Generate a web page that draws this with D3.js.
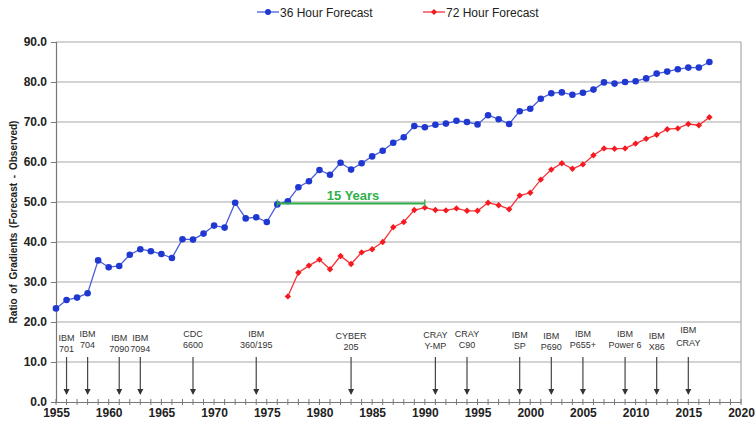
<!DOCTYPE html>
<html>
<head>
<meta charset="utf-8">
<script src="https://cdn.jsdelivr.net/npm/d3@7"></script>
<style>
  html, body { margin: 0; padding: 0; background: #fff; }
  svg { display: block; font-family: "Liberation Sans", Arial, Helvetica, sans-serif; }
</style>
</head>
<body>
<svg id="chart" width="756" height="424"></svg>
<script>
// ---------------- DATA ----------------
const years36 = [1955,1956,1957,1958,1959,1960,1961,1962,1963,1964,1965,1966,1967,1968,1969,1970,1971,1972,1973,1974,1975,1976,1977,1978,1979,1980,1981,1982,1983,1984,1985,1986,1987,1988,1989,1990,1991,1992,1993,1994,1995,1996,1997,1998,1999,2000,2001,2002,2003,2004,2005,2006,2007,2008,2009,2010,2011,2012,2013,2014,2015,2016,2017];
const values36 = [23.4,25.5,26.1,27.2,35.4,33.7,34.0,36.8,38.2,37.7,37.0,36.0,40.7,40.6,42.1,44.1,43.6,49.8,45.9,46.2,45.0,49.4,50.2,53.7,55.2,58.0,56.8,59.8,58.1,59.7,61.4,62.8,64.8,66.2,69.0,68.7,69.3,69.6,70.3,70.0,69.4,71.7,70.7,69.5,72.7,73.3,75.8,77.2,77.4,76.8,77.3,78.1,79.9,79.6,80.0,80.2,80.9,82.1,82.6,83.2,83.6,83.6,85.0];
const years72 = [1977,1978,1979,1980,1981,1982,1983,1984,1985,1986,1987,1988,1989,1990,1991,1992,1993,1994,1995,1996,1997,1998,1999,2000,2001,2002,2003,2004,2005,2006,2007,2008,2009,2010,2011,2012,2013,2014,2015,2016,2017];
const values72 = [26.4,32.3,34.1,35.6,33.2,36.5,34.5,37.4,38.2,40.0,43.7,45.0,48.0,48.6,48.0,47.9,48.4,47.8,47.8,49.8,49.2,48.2,51.6,52.3,55.6,58.1,59.7,58.3,59.4,61.7,63.4,63.3,63.4,64.6,65.8,66.8,68.2,68.4,69.5,69.2,71.2];

const seriesNames = ["36 Hour Forecast", "72 Hour Forecast"];
const yTicks = [0,10,20,30,40,50,60,70,80,90];
const xTickLabels = [1955,1960,1965,1970,1975,1980,1985,1990,1995,2000,2005,2010,2015,2020];

const machineYears  = [1956, 1958, 1961, 1963, 1968, 1974, 1983, 1991, 1994, 1999, 2002, 2005, 2009, 2012, 2015];
const machineLine1  = ["IBM","IBM","IBM","IBM","CDC","IBM","CYBER","CRAY","CRAY","IBM","IBM","IBM","IBM","IBM","IBM"];
const machineLine2  = ["701","704","7090","7094","6600","360/195","205","Y-MP","C90","SP","P690","P655+","Power 6","X86","CRAY"];

const gapLabel = "15 Years";
const gapStartYear = 1976, gapEndYear = 1990, gapValue = 49.6;
const yTitle = "Ratio of Gradients (Forecast - Observed)";

// ---------------- LAYOUT / STYLE ----------------
(function () {
const svg = d3.select("#chart");
const mLeft = 56, mRight = 741, mTop = 42, mBottom = 402;
const x = d3.scaleLinear().domain([1955, 2020]).range([mLeft, mRight]);
const y = d3.scaleLinear().domain([0, 90]).range([mBottom, mTop]);

const blue = "#2038d2", blueLine = "#4a5cd8";
const red = "#f41a1f", redLine = "#f5333a";
const green = "#2fb04a";
const grid = "#a8a8a8";
const textCol = "#222";

// gridlines
svg.append("g").selectAll("line").data(yTicks.filter(d => d > 0)).join("line")
  .attr("x1", mLeft).attr("x2", mRight)
  .attr("y1", d => y(d)).attr("y2", d => y(d))
  .attr("stroke", grid).attr("stroke-width", 1.2);
svg.append("line").attr("x1", mRight).attr("x2", mRight).attr("y1", mTop).attr("y2", mBottom)
  .attr("stroke", grid).attr("stroke-width", 1.2);

// y axis
const yAxis = d3.axisLeft(y).tickValues(yTicks).tickSize(5).tickPadding(4).tickFormat(d3.format(".1f"));
const gy = svg.append("g").attr("transform", `translate(${mLeft},0)`).call(yAxis);
gy.select(".domain").attr("stroke", "#777").attr("stroke-width", 1.2);
gy.selectAll(".tick line").attr("stroke", "#777");
gy.selectAll("text").attr("fill", textCol).style("font-size", "12px").style("font-weight", "bold");

// x axis with yearly minor ticks crossing the axis
const xAxis = d3.axisBottom(x).tickValues(xTickLabels).tickSize(0).tickPadding(6).tickFormat(d3.format("d"));
const gx = svg.append("g").attr("transform", `translate(0,${mBottom})`).call(xAxis);
gx.select(".domain").attr("stroke", "#777").attr("stroke-width", 1.2);
gx.selectAll("text").attr("fill", textCol).style("font-size", "12px").style("font-weight", "bold");
gx.append("g").selectAll("line").data(d3.range(1955, 2021)).join("line")
  .attr("x1", d => x(d)).attr("x2", d => x(d)).attr("y1", -3).attr("y2", 3)
  .attr("stroke", "#777").attr("stroke-width", 1);

// y title
svg.append("text")
  .attr("transform", `translate(17,${(mTop + mBottom) / 2}) rotate(-90)`)
  .attr("text-anchor", "middle")
  .attr("fill", textCol)
  .style("font-size", "10px").style("font-weight", "bold").style("word-spacing", "2px")
  .text(yTitle);

// machine annotations
const mg = svg.append("g");
const labelTop = 341;
const raise = { "704": -4, "6600": -4, "360/195": -4, "205": -2, "Y-MP": -3, "C90": -4, "SP": -3, "P690": -2, "P655+": -4, "Power 6": -4, "X86": -2, "CRAY": -8 };
machineYears.forEach((yr, i) => {
  const cx = x(yr);
  const dy = raise[machineLine2[i]] || 0;
  const t = mg.append("text").attr("text-anchor", "middle").attr("fill", "#333").style("font-size", "9px");
  t.append("tspan").attr("x", cx).attr("y", labelTop + dy).text(machineLine1[i]);
  t.append("tspan").attr("x", cx).attr("y", labelTop + dy + (machineLine2[i] === "CRAY" ? 13 : 11)).text(machineLine2[i]);
  mg.append("line").attr("x1", cx).attr("x2", cx).attr("y1", 357).attr("y2", 390)
    .attr("stroke", "#444").attr("stroke-width", 1.2);
  mg.append("path").attr("d", `M${cx - 3},389 L${cx + 3},389 L${cx},395 Z`).attr("fill", "#333");
});

// series
const line = d3.line().x(d => x(d[0])).y(d => y(d[1]));
const d36 = years36.map((yr, i) => [yr, values36[i]]);
const d72 = years72.map((yr, i) => [yr, values72[i]]);

svg.append("path").datum(d72).attr("d", line).attr("fill", "none").attr("stroke", redLine).attr("stroke-width", 1.3);
svg.append("g").selectAll("path").data(d72).join("path")
  .attr("d", d => `M${x(d[0])},${y(d[1]) - 3.2} L${x(d[0]) + 3.2},${y(d[1])} L${x(d[0])},${y(d[1]) + 3.2} L${x(d[0]) - 3.2},${y(d[1])} Z`)
  .attr("fill", red);

svg.append("path").datum(d36).attr("d", line).attr("fill", "none").attr("stroke", blueLine).attr("stroke-width", 1.3);
svg.append("g").selectAll("circle").data(d36).join("circle")
  .attr("cx", d => x(d[0])).attr("cy", d => y(d[1])).attr("r", 3.3).attr("fill", blue);

// 15 years annotation
const gg = svg.append("g");
gg.append("line").attr("x1", x(gapStartYear)).attr("x2", x(gapEndYear)).attr("y1", y(gapValue)).attr("y2", y(gapValue))
  .attr("stroke", green).attr("stroke-width", 2);
[gapStartYear, gapEndYear].forEach(yr => {
  gg.append("line").attr("x1", x(yr)).attr("x2", x(yr)).attr("y1", y(gapValue) - 4).attr("y2", y(gapValue) + 3)
    .attr("stroke", green).attr("stroke-width", 1.3);
});
gg.append("text").attr("x", x((gapStartYear + gapEndYear) / 2) + 2).attr("y", y(gapValue) - 4)
  .attr("text-anchor", "middle").attr("fill", green)
  .style("font-size", "13px").style("font-weight", "bold").text(gapLabel);

// legend
const lg = svg.append("g");
const legendItems = [
  { name: seriesNames[0], x0: 257, color: blue, lineColor: blueLine, shape: "circle" },
  { name: seriesNames[1], x0: 423, color: red, lineColor: redLine, shape: "diamond" }
];
legendItems.forEach(it => {
  lg.append("line").attr("x1", it.x0).attr("x2", it.x0 + 22).attr("y1", 12).attr("y2", 12)
    .attr("stroke", it.lineColor).attr("stroke-width", 1.3);
  const mx = it.x0 + 11;
  if (it.shape === "circle") lg.append("circle").attr("cx", mx).attr("cy", 12).attr("r", 3).attr("fill", it.color);
  else lg.append("path").attr("d", `M${mx},9 L${mx + 3},12 L${mx},15 L${mx - 3},12 Z`).attr("fill", it.color);
  lg.append("text").attr("x", it.x0 + 23).attr("y", 16.5).attr("fill", textCol)
    .style("font-size", "12px").text(it.name);
});
})();
</script>
</body>
</html>
